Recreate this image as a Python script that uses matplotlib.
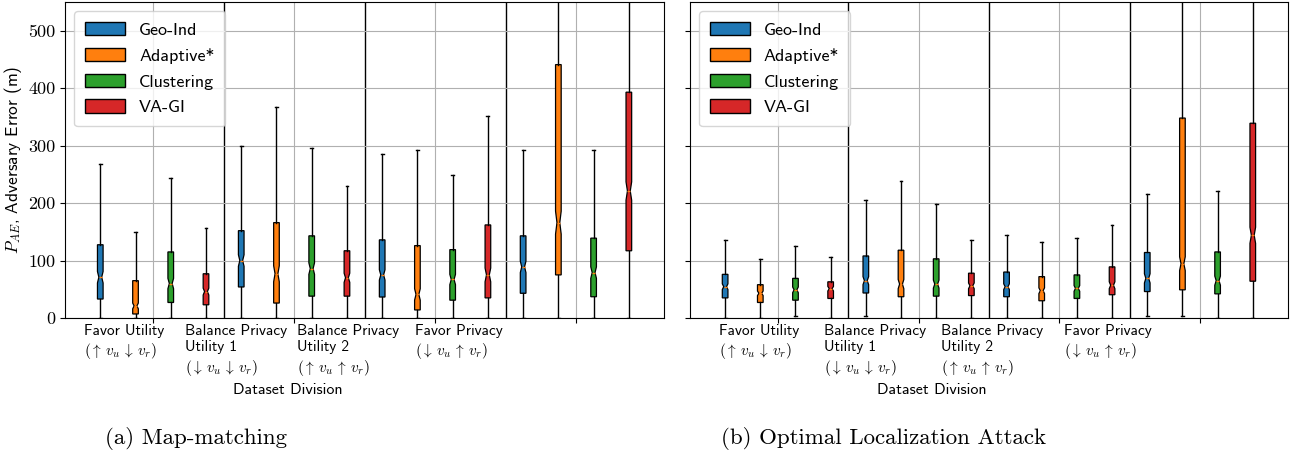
import numpy as np
import matplotlib
matplotlib.use("Agg")
import matplotlib.pyplot as plt
from matplotlib.patches import Patch
import matplotlib.transforms as mtransforms

plt.rcParams['font.family'] = ['cmss10', 'DejaVu Sans']
plt.rcParams['mathtext.fontset'] = 'cm'
plt.rcParams['axes.unicode_minus'] = False

methods = ['Geo-Ind', 'Adaptive*', 'Clustering', 'VA-GI']
colors = ['#1f77b4', '#ff7f0e', '#2ca02c', '#d62728']
groups = ['Favor Utility\n$(\\uparrow\\, v_u \\,\\downarrow\\, v_r)$',
          'Balance Privacy\nUtility 1\n$(\\downarrow\\, v_u \\,\\downarrow\\, v_r)$',
          'Balance Privacy\nUtility 2\n$(\\uparrow\\, v_u \\,\\uparrow\\, v_r)$',
          'Favor Privacy\n$(\\downarrow\\, v_u \\,\\uparrow\\, v_r)$']

# (whislo, q1, median, q3, whishi, notch half-width) per box, group by group
mapmatch = [
    [(0, 33, 71, 127.5, 268, 10), (0, 7, 21, 65, 150, 5), (0, 27, 60, 115, 244, 9), (0, 23, 46, 77, 156, 6)],
    [(0, 54, 100, 152, 299, 10), (0, 26, 77, 166, 368, 14), (0, 38, 86, 143, 296, 10), (0, 38, 70, 117, 230, 8)],
    [(0, 36.5, 75, 136, 286, 9), (0, 14, 41, 126, 292, 10), (0, 31, 67, 119, 249, 9), (0, 35, 75, 162, 352, 12)],
    [(0, 43, 89, 143, 292, 10), (0, 75, 166, 441, 620, 20), (0, 37, 79, 139, 292, 10), (0, 117, 221, 393, 620, 16)],
]
optimal = [
    [(0, 35, 54.5, 76, 136, 5), (0, 27, 43, 58, 102, 4), (3, 31, 49, 69, 125, 5), (0, 34, 51, 63, 105.5, 4)],
    [(3, 43.5, 65, 108, 206, 7), (0, 37, 59, 118, 238, 8), (0, 38, 59, 103, 198, 7), (0, 39, 56, 78, 136, 5)],
    [(0, 37, 54.5, 80, 144, 5), (0, 30, 47.5, 72, 132, 5), (0, 34, 51.5, 75, 138.5, 5), (0, 40.5, 57, 89, 162, 6)],
    [(3, 46, 69, 114, 216, 8), (4, 49, 94.5, 348, 620, 12), (0, 42, 65, 115, 221, 8), (0, 64, 144, 339, 620, 14)],
]

# left edge of each multi-line group label (data x) per panel
label_x = [[0.54, 3.41, 6.58, 9.93], [0.82, 3.81, 7.14, 10.63]]
xlabel_x = [0.372, 0.405]

fig = plt.figure(figsize=(12.93, 4.59), dpi=100)
ax0 = fig.add_axes([0.0503, 0.3072, 0.4633, 0.6885])
ax1 = fig.add_axes([0.5336, 0.3072, 0.4625, 0.6885], sharey=ax0)

for k, (ax, data) in enumerate([(ax0, mapmatch), (ax1, optimal)]):
    pos = 1
    for g in range(len(data)):
        for i, (lo, q1, med, q3, hi, ci) in enumerate(data[g]):
            st = dict(med=med, q1=q1, q3=q3, whislo=lo, whishi=hi,
                      cilo=med - ci, cihi=med + ci, fliers=[])
            ax.bxp([st], positions=[pos], widths=0.16, shownotches=True,
                   patch_artist=True, showfliers=False, manage_ticks=False,
                   boxprops=dict(facecolor=colors[i], edgecolor='black', linewidth=0.9),
                   whiskerprops=dict(color='black', linewidth=1),
                   capprops=dict(color='black', linewidth=1),
                   medianprops=dict(color='#ff7f0e', linewidth=1))
            pos += 1
        if g < len(data) - 1:
            ax.axvline(pos - 0.5, color='black', linewidth=1, zorder=0.5)
    ax.set_xlim(0, 17)
    ax.set_ylim(0, 550)
    ax.set_xticks([2.5, 6.5, 10.5, 14.5])
    ax.set_xticklabels([])
    ax.set_yticks([0, 100, 200, 300, 400, 500])
    ax.grid(True, color='#b0b0b0', linewidth=0.8)
    ax.set_axisbelow(True)
    trans = mtransforms.blended_transform_factory(ax.transData, ax.transAxes)
    for j, lab in enumerate(groups):
        ax.text(label_x[k][j], -0.018, lab, transform=trans, ha='left', va='top',
                fontsize=11, linespacing=1.25, multialignment='left')
    ax.text(xlabel_x[k], -0.228, 'Dataset Division', transform=ax.transAxes,
            ha='center', va='center', fontsize=11.5)
    handles = [Patch(facecolor=c, edgecolor='black', label=m) for c, m in zip(colors, methods)]
    ax.legend(handles=handles, loc='upper left', fontsize=13, handlelength=2.2,
              handleheight=0.75, labelspacing=0.55, borderpad=0.6)

for lab in ax0.get_yticklabels():
    lab.set_fontfamily('cmr10')
    lab.set_fontsize(13)
plt.setp(ax1.get_yticklabels(), visible=False)
ax0.set_ylabel('$P_{AE}$, Adversary Error (m)', fontsize=12.5, labelpad=3)

fig.text(196 / 1293, 1 - 438 / 459, '(a) Map-matching', family='cmr10', fontsize=16.5,
         ha='center', va='center')
fig.text(884 / 1293, 1 - 438 / 459, '(b) Optimal Localization Attack', family='cmr10',
         fontsize=16.5, ha='center', va='center')

plt.savefig('out.png', dpi=100)
